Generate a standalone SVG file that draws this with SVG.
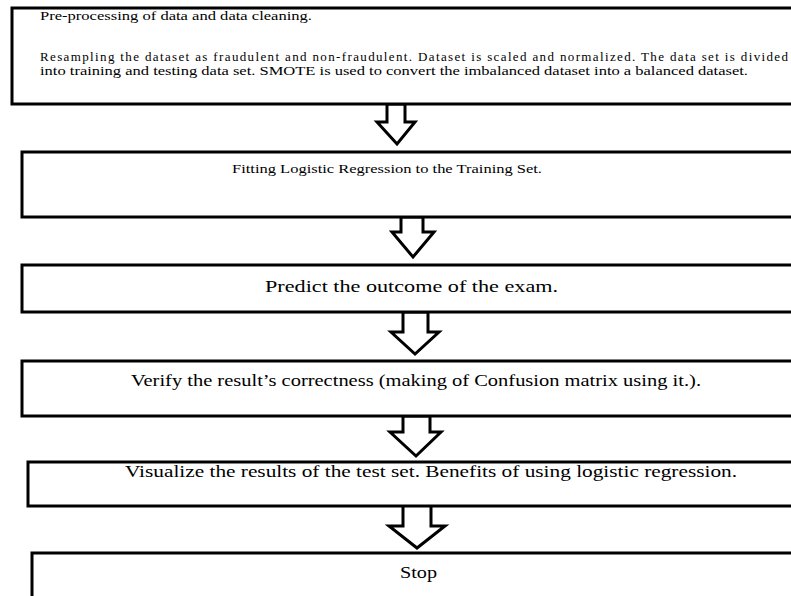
<svg xmlns="http://www.w3.org/2000/svg" width="791" height="596" viewBox="0 0 791 596">
<style>
.box{fill:#fff;stroke:#000;stroke-width:3}
.arr{fill:#fff;stroke:#000;stroke-width:3;stroke-linejoin:miter}
.t{font-family:"Liberation Serif","Times New Roman",serif;fill:#000}
.s{font-size:13px}
.m{font-size:17px}
</style>
<rect width="791" height="596" fill="#fff"/>
<g id="connectors">
<polygon class="arr" points="387,104 405,104 405,122 415,122 397,144 377,122 387,122"/>
<polygon class="arr" points="401,217 423,217 423,232 434,232 413,257 392,232 401,232"/>
<polygon class="arr" points="403,312 428,312 428,332 439,332 415,354 391,332 403,332"/>
<polygon class="arr" points="403,416 430,416 430,432 441,432 416,456 390,432 403,432"/>
<polygon class="arr" points="403,504 431,504 431,526 445,526 417,548 389,526 403,526"/>
</g>
<g id="n1">
<rect class="box" x="12" y="8" width="790" height="96"/>
<text class="t s" x="40" y="20" textLength="272" lengthAdjust="spacingAndGlyphs">Pre-processing of data and data cleaning.</text>
<text class="t s" x="40" y="61" textLength="748" lengthAdjust="spacing">Resampling the dataset as fraudulent and non-fraudulent. Dataset is scaled and normalized. The data set is divided</text>
<text class="t s" x="40" y="75" textLength="708" lengthAdjust="spacingAndGlyphs">into training and testing data set. SMOTE is used to convert the imbalanced dataset into a balanced dataset.</text>
</g>
<g id="n2">
<rect class="box" x="22" y="152" width="780" height="65"/>
<text class="t s" x="232" y="173" textLength="310" lengthAdjust="spacingAndGlyphs">Fitting Logistic Regression to the Training Set.</text>
</g>
<g id="n3">
<rect class="box" x="22" y="265" width="780" height="47"/>
<text class="t m" x="265" y="292" textLength="293" lengthAdjust="spacingAndGlyphs">Predict the outcome of the exam.</text>
</g>
<g id="n4">
<rect class="box" x="22" y="361" width="780" height="55"/>
<text class="t m" x="131" y="386" textLength="570" lengthAdjust="spacingAndGlyphs">Verify the result’s correctness (making of Confusion matrix using it.).</text>
</g>
<g id="n5">
<rect class="box" x="28" y="462" width="774" height="44"/>
<text class="t m" x="125" y="477" textLength="612" lengthAdjust="spacingAndGlyphs">Visualize the results of the test set. Benefits of using logistic regression.</text>
</g>
<g id="n6">
<rect class="box" x="32" y="553" width="770" height="60"/>
<text class="t" font-size="16" x="400" y="578" textLength="37" lengthAdjust="spacingAndGlyphs">Stop</text>
</g>
</svg>
